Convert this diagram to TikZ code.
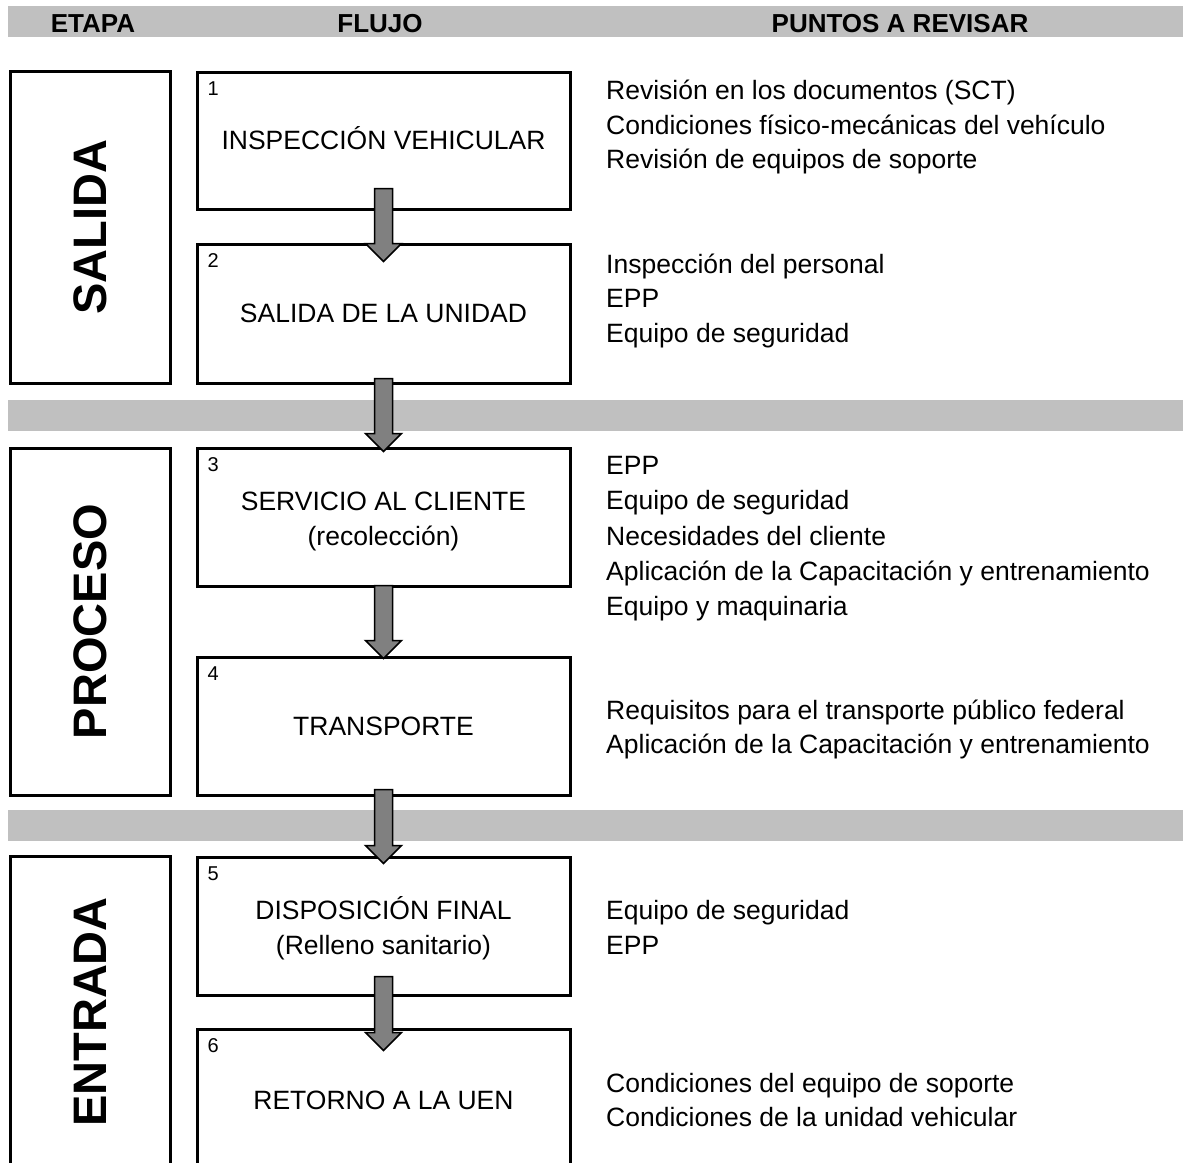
\documentclass[tikz,border=0pt]{standalone}
\usepackage{fontspec}
\setmainfont{Liberation Sans}
\usetikzlibrary{calc}
\definecolor{bargray}{RGB}{192,192,192}
\definecolor{arrgray}{RGB}{128,128,128}
\tikzset{
  bar/.style={fill=bargray, draw=none},
  flowbox/.style={draw=black, line width=3pt, rectangle, minimum width=373pt, inner sep=0pt},
  stagebox/.style={draw=black, line width=3pt, rectangle, minimum width=160pt, inner sep=0pt},
  stagelbl/.style={font=\fontsize{47}{50}\selectfont\bfseries, rotate=90, inner sep=0pt},
  hdr/.style={font=\fontsize{26}{30}\selectfont\bfseries, inner sep=0pt, anchor=base},
  ttl/.style={font=\fontsize{26.5}{32}\selectfont, inner sep=0pt, anchor=base},
  pts/.style={font=\fontsize{26.5}{32}\selectfont, inner sep=0pt, anchor=base west},
  num/.style={font=\fontsize{20}{24}\selectfont, inner sep=0pt, anchor=north west},
  blockarr/.style={fill=arrgray, draw=black, line width=1.5pt, line join=miter}
}
\newcommand{\blkarrow}[4]{%
  \draw[blockarr] ($(#1.south)+(-9,-#2)$) -- ($(#3.north)+(-9,#4-18)$) -- ($(#3.north)+(-18,#4-18)$)
    -- ($(#3.north)+(0,#4)$) -- ($(#3.north)+(18,#4-18)$) -- ($(#3.north)+(9,#4-18)$)
    -- ($(#1.south)+(9,-#2)$) -- cycle;}
\begin{document}
\begin{tikzpicture}[x=1pt, y=-1pt]
\useasboundingbox (0,0) rectangle (1183,1162);
\clip (0,0) rectangle (1183,1162);
% gray bars
\fill[bar] (8,6) rectangle (1183,37);
\fill[bar] (8,400) rectangle (1183,431);
\fill[bar] (8,810) rectangle (1183,841);
% header
\node[hdr] (hE) at (93,32) {ETAPA};
\node[hdr] (hF) at (380,32) {FLUJO};
\node[hdr] (hP) at (900,32) {PUNTOS A REVISAR};
% stage boxes
\node[stagebox, minimum height=312pt] (s1) at (90,227) {};
\node[stagebox, minimum height=347pt] (s2) at (90,621.5) {};
\node[stagebox, minimum height=312pt] (s3) at (90,1012) {};
\node[stagelbl] (l1) at (s1.center) {SALIDA};
\node[stagelbl] (l2) at (s2.center) {PROCESO};
\node[stagelbl] (l3) at (s3.center) {ENTRADA};
% flow boxes
\node[flowbox, minimum height=137pt] (b1) at (383.5,140.5) {};
\node[flowbox, minimum height=139pt] (b2) at (383.5,313.5) {};
\node[flowbox, minimum height=138pt] (b3) at (383.5,517) {};
\node[flowbox, minimum height=138pt] (b4) at (383.5,726) {};
\node[flowbox, minimum height=138pt] (b5) at (383.5,926) {};
\node[flowbox, minimum height=142pt] (b6) at (383.5,1100) {};
% numbers
\node[num] (n1) at ($(b1.north west)+(12,11)$) {1};
\node[num] (n2) at ($(b2.north west)+(12,11)$) {2};
\node[num] (n3) at ($(b3.north west)+(12,11)$) {3};
\node[num] (n4) at ($(b4.north west)+(12,11)$) {4};
\node[num] (n5) at ($(b5.north west)+(12,11)$) {5};
\node[num] (n6) at ($(b6.north west)+(12,11)$) {6};
% titles
\node[ttl] (t1) at ($(b1.center)+(0,9)$) {INSPECCIÓN VEHICULAR};
\node[ttl] (t2) at ($(b2.center)+(0,9)$) {SALIDA DE LA UNIDAD};
\node[ttl] (t3a) at ($(b3.center)+(0,-6.5)$) {SERVICIO AL CLIENTE};
\node[ttl] (t3b) at ($(b3.center)+(0,28.5)$) {(recolección)};
\node[ttl] (t4) at ($(b4.center)+(0,9.5)$) {TRANSPORTE};
\node[ttl] (t5a) at ($(b5.center)+(0,-6.5)$) {DISPOSICIÓN FINAL};
\node[ttl] (t5b) at ($(b5.center)+(0,28.5)$) {(Relleno sanitario)};
\node[ttl] (t6) at ($(b6.center)+(0,9.5)$) {RETORNO A LA UEN};
% arrows
\blkarrow{b1}{22}{b2}{19}
\blkarrow{b2}{6}{b3}{5}
\blkarrow{b3}{2}{b4}{3}
\blkarrow{b4}{7}{b5}{8}
\blkarrow{b5}{20}{b6}{23}
% points to review
\node[pts] (p11) at (606,99.5) {Revisión en los documentos (SCT)};
\node[pts] (p12) at (606,134) {Condiciones físico-mecánicas del vehículo};
\node[pts] (p13) at (606,168.5) {Revisión de equipos de soporte};
\node[pts] (p21) at (606,273.5) {Inspección del personal};
\node[pts] (p22) at (606,307.5) {EPP};
\node[pts] (p23) at (606,342.5) {Equipo de seguridad};
\node[pts] (p31) at (606,474.5) {EPP};
\node[pts] (p32) at (606,509.5) {Equipo de seguridad};
\node[pts] (p33) at (606,545) {Necesidades del cliente};
\node[pts] (p34) at (606,580.5) {Aplicación de la Capacitación y entrenamiento};
\node[pts] (p35) at (606,615.5) {Equipo y maquinaria};
\node[pts] (p41) at (606,719.5) {Requisitos para el transporte público federal};
\node[pts] (p42) at (606,753.5) {Aplicación de la Capacitación y entrenamiento};
\node[pts] (p51) at (606,919.5) {Equipo de seguridad};
\node[pts] (p52) at (606,954.5) {EPP};
\node[pts] (p61) at (606,1092.5) {Condiciones del equipo de soporte};
\node[pts] (p62) at (606,1126.5) {Condiciones de la unidad vehicular};
\end{tikzpicture}
\end{document}
